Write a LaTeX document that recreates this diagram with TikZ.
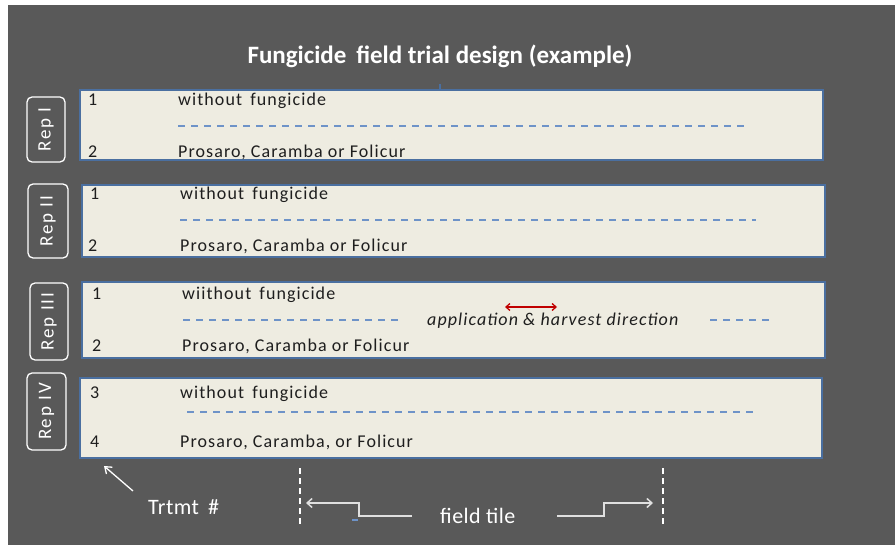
\documentclass[tikz,border=0pt]{standalone}
\usepackage{fontspec}
\setmainfont{Carlito}
\newfontfamily\boxfont[LetterSpace=6]{Carlito}
\newfontfamily\repfont[LetterSpace=10]{Carlito}
\newfontfamily\whfont[LetterSpace=2]{Carlito}
\usetikzlibrary{arrows.meta}
\definecolor{bgc}{HTML}{595959}
\definecolor{boxfill}{HTML}{EEECE1}
\definecolor{boxline}{HTML}{4A6FA0}
\definecolor{dashc}{HTML}{6E93C8}
\definecolor{txt}{HTML}{1E1E1E}
\definecolor{redc}{HTML}{C00000}
\definecolor{tilec}{HTML}{E0E0E0}
\begin{document}
\begin{tikzpicture}[x=1pt,y=-1pt,
  plotbox/.style={draw=boxline, line width=1.2pt, fill=boxfill},
  repbox/.style={draw=white, line width=1.3pt, rounded corners=5pt, rotate=90, text=white,
    inner sep=0pt, font=\repfont\fontsize{19}{19}\selectfont},
  lbl/.style={anchor=base west, inner sep=0pt, text=txt, font=\boxfont\fontsize{18}{18}\selectfont},
  sep/.style={draw=dashc, line width=1.6pt, dash pattern=on 7pt off 6pt},
  wtxt/.style={text=white, inner sep=0pt, font=\whfont\fontsize{22}{22}\selectfont},
  tileline/.style={draw=tilec, line width=1.5pt},
  vdash/.style={draw=white, line width=1.2pt, dash pattern=on 6pt off 4pt}
]
\useasboundingbox (0,0) rectangle (895,545);
\fill[white] (0,0) rectangle (895,545);
\fill[bgc] (8,5) rectangle (895,545);

% title
\node[anchor=base, inner sep=0pt, text=white, font=\fontsize{25}{25}\selectfont\bfseries] (title) at (440,64) {Fungicide\, field trial design (example)};

% plot boxes
\draw[plotbox] (80,90) rectangle (823,160) coordinate (p1);
\draw[plotbox] (82,185) rectangle (825,257) coordinate (p2);
\draw[plotbox] (82,282) rectangle (825,358) coordinate (p3);
\draw[plotbox] (80,378) rectangle (822,458) coordinate (p4);
\draw[boxline, line width=1.2pt] (440,84) -- (440,89);

% rep labels
\node[repbox, minimum width=65pt, minimum height=38pt] (r1) at (46,129.5) {Rep I};
\node[repbox, minimum width=74pt, minimum height=40pt] (r2) at (48,221) {Rep II};
\node[repbox, minimum width=77pt, minimum height=38pt] (r3) at (49,321.5) {Rep III};
\node[repbox, minimum width=77pt, minimum height=39pt] (r4) at (46.5,411.5) {Rep IV};

% box 1
\node[lbl] (n11) at (88,106) {1};
\node[lbl] (t11) at (178,106) {without\, fungicide};
\draw[sep] (178,126) -- (745,126);
\node[lbl] (n12) at (88,158) {2};
\node[lbl] (t12) at (178,158) {Prosaro, Caramba or Folicur};

% box 2
\node[lbl] (n21) at (90,200) {1};
\node[lbl] (t21) at (180,200) {without\, fungicide};
\draw[sep] (180,220) -- (756,220);
\node[lbl] (n22) at (88,252) {2};
\node[lbl] (t22) at (180,252) {Prosaro, Caramba or Folicur};

% box 3
\node[lbl] (n31) at (92,300) {1};
\node[lbl] (t31) at (182,300) {wiithout\, fungicide};
\draw[sep] (183,320) -- (403,320);
\node[lbl, font=\boxfont\fontsize{18}{18}\selectfont\itshape] (app) at (427,326) {application \& harvest direction};
\draw[sep] (710,320) -- (772,320);
\draw[redc, line width=1.3pt, {Straight Barb[length=4pt,width=7pt]}-{Straight Barb[length=4pt,width=7pt]}] (505,307) -- (557,307);
\node[lbl] (n32) at (92,352) {2};
\node[lbl] (t32) at (182,352) {Prosaro, Caramba or Folicur};

% box 4
\node[lbl] (n41) at (90,399) {3};
\node[lbl] (t41) at (180,399) {without\, fungicide};
\draw[sep] (187,412) -- (755,412);
\node[lbl] (n42) at (90,448) {4};
\node[lbl] (t42) at (180,448) {Prosaro, Caramba, or Folicur};

% Trtmt
\node[wtxt, anchor=base west] (trt) at (148,514) {Trtmt\, \#};
\coordinate (trtstart) at (133,491);
\coordinate (trtend) at (104,466);
\draw[white, line width=1.3pt, -{Straight Barb[length=6pt,width=9pt]}] (trtstart) -- (trtend);

% field tile
\draw[vdash] (300,468) -- (300,527);
\draw[vdash] (663,468) -- (663,525);
\node[wtxt, anchor=base west] (tile) at (440,523) {field tile};
\coordinate (la) at (412,516);
\coordinate (lb) at (306,503);
\draw[tileline, -{Straight Barb[length=5pt,width=9pt]}] (la) -- (359,516) -- (359,503) -- (lb);
\coordinate (ra) at (557,516);
\coordinate (rb) at (653,503);
\draw[tileline, -{Straight Barb[length=5pt,width=9pt]}] (ra) -- (604,516) -- (604,503) -- (rb);
\draw[dashc, line width=1.2pt] (352,520) -- (358,520);
\end{tikzpicture}
\end{document}
